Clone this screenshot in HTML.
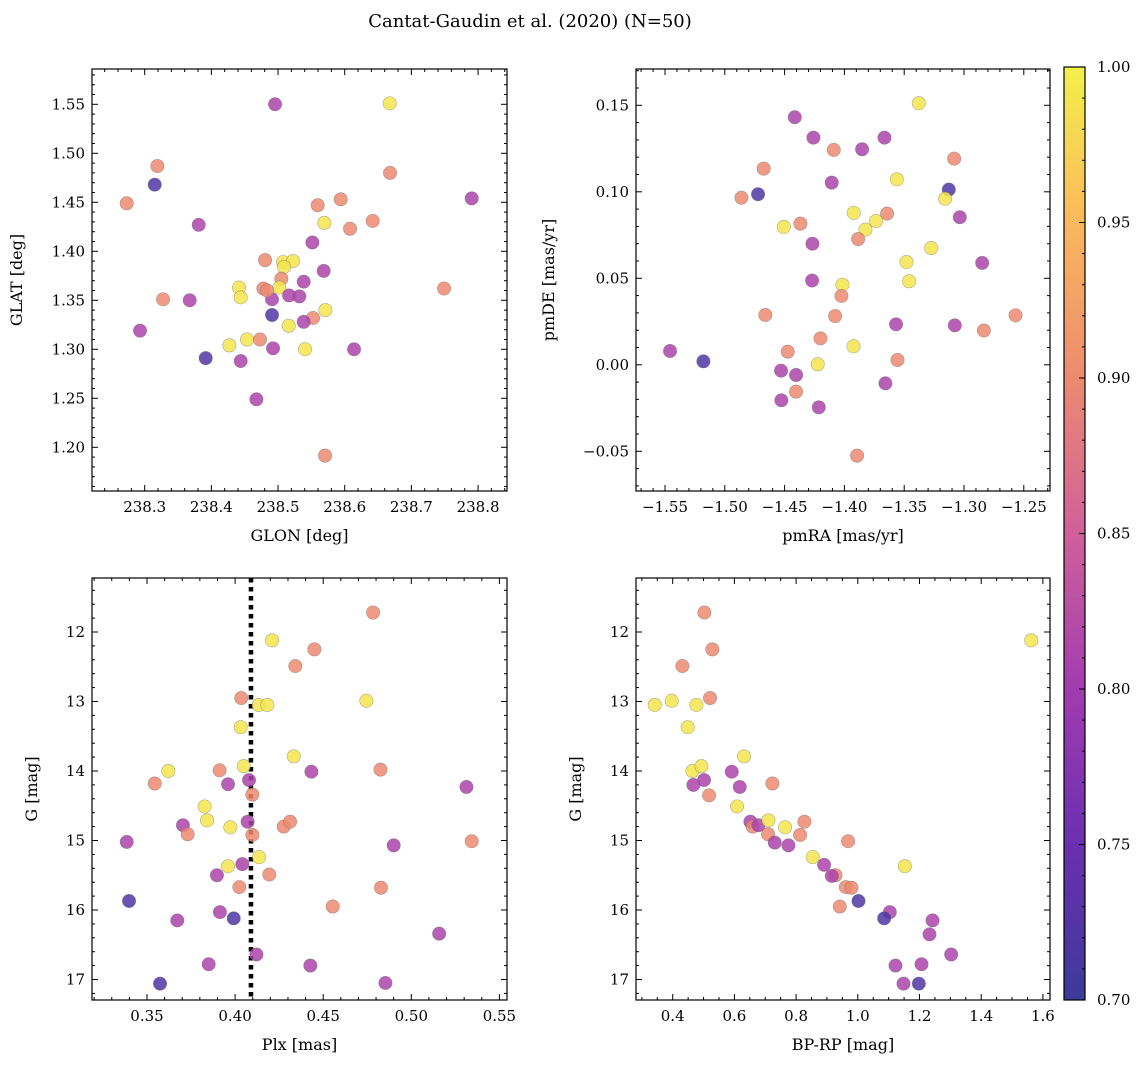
<!DOCTYPE html>
<html><head><meta charset="utf-8"><style>
body{margin:0;background:#fff}
svg{display:block;font-family:"DejaVu Serif","Liberation Serif",serif}
</style></head><body>
<svg id="fig" width="1148" height="1068" viewBox="0 0 1148 1068">
<text x="530" y="27" text-anchor="middle" font-size="18">Cantat-Gaudin et al. (2020) (N=50)</text>
</svg>
<script>
// Panel 1: GLON vs GLAT
const p1x=[238.4955,238.6675,238.319,238.315,238.273,238.668,238.7905,238.381,238.5595,238.594,238.5695,238.608,238.642,238.5515,238.4805,238.5075,238.5225,238.509,238.5685,238.505,238.5385,238.4415,238.444,238.3275,238.3675,238.478,238.502,238.491,238.5165,238.532,238.491,238.571,238.5525,238.5385,238.516,238.293,238.427,238.4535,238.473,238.4925,238.5405,238.614,238.3915,238.444,238.4675,238.5705,238.749,238.4835];
const p1y=[1.550,1.551,1.487,1.468,1.449,1.480,1.454,1.427,1.447,1.453,1.429,1.423,1.431,1.409,1.391,1.389,1.390,1.384,1.380,1.372,1.369,1.363,1.353,1.351,1.350,1.362,1.363,1.351,1.355,1.354,1.335,1.340,1.332,1.328,1.324,1.319,1.304,1.310,1.310,1.301,1.300,1.300,1.291,1.288,1.249,1.1915,1.362,1.360];
const p1c=[0.81,0.99,0.90,0.72,0.90,0.90,0.81,0.81,0.90,0.90,0.99,0.90,0.90,0.81,0.90,0.99,0.99,0.99,0.81,0.90,0.81,0.99,0.99,0.90,0.81,0.90,0.99,0.81,0.81,0.81,0.72,0.99,0.90,0.81,0.99,0.81,0.99,0.99,0.90,0.81,0.99,0.81,0.72,0.81,0.81,0.90,0.90,0.90];
// Panel 2: pmRA vs pmDE
const p2x=[-1.3378,-1.4415,-1.4259,-1.4089,-1.3852,-1.3665,-1.3082,-1.4675,-1.4106,-1.3562,-1.4722,-1.4861,-1.3127,-1.3158,-1.3922,-1.3643,-1.3735,-1.3824,-1.3035,-1.4507,-1.4368,-1.3885,-1.4267,-1.3275,-1.3481,-1.2848,-1.3459,-1.4270,-1.4016,-1.4025,-1.4661,-1.4078,-1.2569,-1.3568,-1.3077,-1.2834,-1.5458,-1.5179,-1.4474,-1.4200,-1.3924,-1.4223,-1.3556,-1.4530,-1.4404,-1.3657,-1.4404,-1.4527,-1.4214,-1.3894];
const p2y=[0.1512,0.1431,0.1313,0.1242,0.1246,0.1313,0.1192,0.1134,0.1053,0.1072,0.0986,0.0966,0.1013,0.0960,0.0878,0.0874,0.0831,0.0781,0.0853,0.0797,0.0816,0.0727,0.0700,0.0675,0.0594,0.0589,0.0483,0.0487,0.0463,0.0398,0.0288,0.0282,0.0286,0.0234,0.0228,0.0198,0.0080,0.0020,0.0076,0.0153,0.0107,0.0003,0.0028,-0.0034,-0.0059,-0.0107,-0.0155,-0.0205,-0.0246,-0.0525];
const p2c=[0.99,0.81,0.81,0.90,0.81,0.81,0.90,0.90,0.81,0.99,0.72,0.90,0.72,0.99,0.99,0.90,0.99,0.99,0.81,0.99,0.90,0.90,0.81,0.99,0.99,0.81,0.99,0.81,0.99,0.90,0.90,0.90,0.90,0.81,0.81,0.90,0.81,0.72,0.90,0.90,0.99,0.99,0.90,0.81,0.81,0.81,0.90,0.81,0.81,0.90];
// Panel 3: Plx vs G
const p3x=[0.4783,0.4210,0.4450,0.4342,0.4035,0.4134,0.4183,0.4745,0.4032,0.4333,0.3621,0.3912,0.4049,0.4433,0.4825,0.3544,0.3960,0.4079,0.4098,0.5313,0.3827,0.3841,0.3704,0.3731,0.3973,0.4071,0.4098,0.4276,0.4312,0.3385,0.4900,0.5343,0.4136,0.3960,0.4041,0.3897,0.4194,0.4024,0.4828,0.3398,0.4554,0.3914,0.3992,0.3672,0.5158,0.4121,0.3850,0.4427,0.3574,0.4853];
const p3y=[11.72,12.12,12.25,12.49,12.95,13.05,13.05,12.99,13.37,13.79,14.00,13.99,13.93,14.01,13.98,14.18,14.19,14.13,14.34,14.23,14.51,14.71,14.78,14.91,14.81,14.73,14.92,14.80,14.73,15.02,15.07,15.01,15.24,15.37,15.34,15.50,15.49,15.67,15.68,15.87,15.95,16.03,16.12,16.15,16.34,16.64,16.78,16.80,17.06,17.05];
const p3c=[0.90,0.99,0.90,0.90,0.90,0.99,0.99,0.99,0.99,0.99,0.99,0.90,0.99,0.81,0.90,0.90,0.81,0.81,0.90,0.81,0.99,0.99,0.81,0.90,0.99,0.81,0.90,0.90,0.90,0.81,0.81,0.90,0.99,0.99,0.81,0.81,0.90,0.90,0.90,0.72,0.90,0.81,0.72,0.81,0.81,0.81,0.81,0.81,0.72,0.81];
const plxMedian=0.409;
// Panel 4: BP-RP vs G
const p4x=[0.5027,0.5286,0.4314,1.5622,0.3416,0.3968,0.4768,0.5211,0.4486,0.6314,0.4638,0.4930,0.5914,0.5016,0.4670,0.6173,0.7232,0.5178,0.6086,0.6519,0.6595,0.6778,0.7103,0.7643,0.8270,0.7092,0.8130,0.7308,0.7751,0.9686,0.8541,0.8908,0.9276,0.9157,1.1524,0.9611,0.9795,0.9416,1.0022,1.1038,1.0854,1.2422,1.2324,1.3027,1.1222,1.2065,1.1481,1.1978];
const p4y=[11.72,12.25,12.49,12.12,13.05,12.99,13.05,12.95,13.37,13.79,14.00,13.93,14.01,14.13,14.20,14.23,14.18,14.35,14.51,14.73,14.80,14.78,14.71,14.81,14.73,14.91,14.92,15.03,15.07,15.01,15.24,15.35,15.50,15.51,15.37,15.67,15.68,15.95,15.87,16.03,16.12,16.15,16.35,16.64,16.80,16.78,17.06,17.06];
const p4c=[0.90,0.90,0.90,0.99,0.99,0.99,0.99,0.90,0.99,0.99,0.99,0.99,0.81,0.81,0.81,0.81,0.90,0.90,0.99,0.81,0.90,0.81,0.99,0.99,0.90,0.90,0.90,0.81,0.81,0.90,0.99,0.81,0.90,0.81,0.99,0.90,0.90,0.90,0.72,0.81,0.72,0.81,0.81,0.81,0.81,0.81,0.81,0.72];
const cbarTicks=[0.70,0.75,0.80,0.85,0.90,0.95,1.00];

const NS="http://www.w3.org/2000/svg";
const svg=document.getElementById('fig');
function mk(tag,attrs,parent){const e=document.createElementNS(NS,tag);for(const k in attrs)e.setAttribute(k,attrs[k]);(parent||svg).appendChild(e);return e;}
const stops=[[0,[61,58,154]],[0.1667,[106,47,176]],[0.3333,[162,60,176]],[0.5,[208,96,154]],[0.6667,[236,138,112]],[0.8333,[251,184,92]],[1,[243,240,74]]];
function cmap(p){let t=Math.max(0,Math.min(1,(p-0.70)/0.30));for(let i=1;i<stops.length;i++){if(t<=stops[i][0]){const a=stops[i-1],b=stops[i],f=(t-a[0])/(b[0]-a[0]);return 'rgb('+a[1].map((v,j)=>Math.round(v+(b[1][j]-v)*f)).join(',')+')';}}return 'rgb(243,240,74)';}
function fmt(v,d){return (v<0?'\u2212':'')+Math.abs(v).toFixed(d);}

function panel(cfg){
  const g=mk('g',{});
  
  
  const X=v=>cfg.x0p+(v-cfg.x0)*cfg.kx, Y=v=>cfg.y0p+(v-cfg.y0)*cfg.ky;
  const L=cfg.box[0],T=cfg.box[1],R=cfg.box[2],B=cfg.box[3];
  const inv=v=>(v-cfg.x0p)/cfg.kx+cfg.x0;
  const xa=inv(L),xb=inv(R);
  const ya=(T-cfg.y0p)/cfg.ky+cfg.y0, yb=(B-cfg.y0p)/cfg.ky+cfg.y0;
  const ylo=Math.min(ya,yb),yhi=Math.max(ya,yb);
  for(let i=Math.ceil(xa/cfg.xmin-1e-6);i*cfg.xmin<=xb+1e-9;i++){const v=i*cfg.xmin,px=X(v);const maj=Math.abs(v/cfg.xmaj-Math.round(v/cfg.xmaj))<1e-4;const len=maj?6:3;
    mk('line',{x1:px,x2:px,y1:B,y2:B-len,stroke:'#000','stroke-width':1},g);mk('line',{x1:px,x2:px,y1:T,y2:T+len,stroke:'#000','stroke-width':1},g);
    if(maj){const t=mk('text',{x:px,y:B+21,'text-anchor':'middle','font-size':15},g);t.textContent=fmt(v,cfg.xd);}}
  for(let i=Math.ceil(ylo/cfg.ymin-1e-6);i*cfg.ymin<=yhi+1e-9;i++){const v=i*cfg.ymin,py=Y(v);const maj=Math.abs(v/cfg.ymaj-Math.round(v/cfg.ymaj))<1e-4;const len=maj?6:3;
    mk('line',{x1:L,x2:L+len,y1:py,y2:py,stroke:'#000','stroke-width':1},g);mk('line',{x1:R,x2:R-len,y1:py,y2:py,stroke:'#000','stroke-width':1},g);
    if(maj){const t=mk('text',{x:L-7,y:py+5,'text-anchor':'end','font-size':15},g);t.textContent=fmt(v,cfg.yd);}}
  if(cfg.vline!==undefined){const l=mk('line',{x1:X(cfg.vline),x2:X(cfg.vline),y1:T,y2:B,stroke:'#000','stroke-width':4.5,'stroke-dasharray':'4.5,4.5'},g);}
  for(let i=0;i<cfg.xs.length;i++){const c=mk('circle',{cx:X(cfg.xs[i]),cy:Y(cfg.ys[i]),r:6.7,fill:cmap(cfg.cs[i]),'fill-opacity':0.85,stroke:'#666','stroke-opacity':0.5,'stroke-width':0.6},g);
    
    }
  const f=mk('rect',{x:L,y:T,width:R-L,height:B-T,fill:'none',stroke:'#000','stroke-width':1.2},g);
  
  const xl=mk('text',{x:(L+R)/2,y:B+50,'text-anchor':'middle','font-size':16},g);xl.textContent=cfg.xlabel;
  
  const yx=L-cfg.ylOff,ym=(T+B)/2;
  const yl=mk('text',{x:yx,y:ym,'text-anchor':'middle','font-size':16,transform:'rotate(-90 '+yx+' '+ym+')'},g);yl.textContent=cfg.ylabel;
  
}
panel({name:'panel-glon-glat',box:[92,69,507,491],xs:p1x,ys:p1y,cs:p1c,x0:238.3,x0p:144.7,kx:666.7,y0:1.55,y0p:104.3,ky:-980,xmaj:0.1,xmin:0.02,ymaj:0.05,ymin:0.01,xd:1,yd:2,xlabel:'GLON [deg]',ylabel:'GLAT [deg]',ylOff:70});
panel({name:'panel-pm',box:[636,69,1050,491],xs:p2x,ys:p2y,cs:p2c,x0:-1.55,x0p:665,kx:1196,y0:0.15,y0p:105.3,ky:-1730,xmaj:0.05,xmin:0.01,ymaj:0.05,ymin:0.01,xd:2,yd:2,xlabel:'pmRA [mas/yr]',ylabel:'pmDE [mas/yr]',ylOff:82});
panel({name:'panel-plx-g',box:[92,578,507,1000],xs:p3x,ys:p3y,cs:p3c,x0:0.35,x0p:147,kx:1762,y0:12,y0p:632,ky:69.5,xmaj:0.05,xmin:0.01,ymaj:1,ymin:0.2,xd:2,yd:0,xlabel:'Plx [mas]',ylabel:'G [mag]',ylOff:55,vline:plxMedian});
panel({name:'panel-cmd',box:[636,578,1050,1000],xs:p4x,ys:p4y,cs:p4c,x0:0.4,x0p:672.7,kx:308.5,y0:12,y0p:632,ky:69.5,xmaj:0.2,xmin:0.05,ymaj:1,ymin:0.2,xd:1,yd:0,xlabel:'BP-RP [mag]',ylabel:'G [mag]',ylOff:55});

// colorbar
const cb=mk('g',{});


const defs=mk('defs',{},cb);
const grad=mk('linearGradient',{id:'cbg',x1:0,y1:1,x2:0,y2:0},defs);
stops.forEach(s=>mk('stop',{offset:s[0],'stop-color':'rgb('+s[1].join(',')+')'},grad));
const CT=67,CB=1000,CL=1064,CR=1085;
mk('rect',{x:CL,y:CT,width:CR-CL,height:CB-CT,fill:'url(#cbg)',stroke:'#000','stroke-width':1.2},cb);
const cy=v=>CB-(v-0.70)/0.30*(CB-CT);
for(let i=70;i<=100;i++){const v=i/100,py=cy(v),maj=i%5===0;mk('line',{x1:CR,x2:CR-(maj?6:3),y1:py,y2:py,stroke:'#000','stroke-width':1},cb);}
cbarTicks.forEach(v=>{const t=mk('text',{x:CR+12,y:cy(v)+5,'font-size':15},cb);t.textContent=v.toFixed(2);

});
</script>
</body></html>
